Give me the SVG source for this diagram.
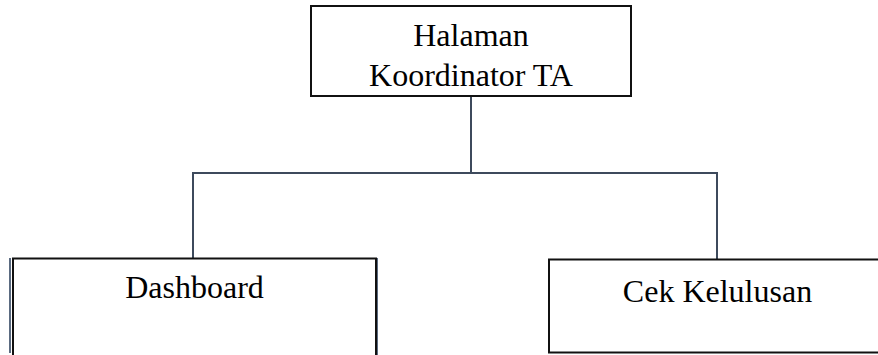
<svg xmlns="http://www.w3.org/2000/svg" width="878" height="355" viewBox="0 0 878 355">
  <style>
    .box { fill: #ffffff; stroke: #111111; stroke-width: 2; }
    .edge { fill: none; stroke: #3d4a5c; stroke-width: 2; }
    .shadow { fill: none; stroke: #5a6a80; stroke-width: 2; }
    .label { font-family: "Liberation Serif", "Times New Roman", serif; font-size: 32px; fill: #000000; text-anchor: middle; }
  </style>
  <rect x="0" y="0" width="878" height="355" fill="#ffffff"/>
  <g id="connectors">
    <line class="edge" x1="471" y1="96" x2="471" y2="173"/>
    <line class="edge" x1="192" y1="173" x2="718" y2="173"/>
    <line class="edge" x1="193" y1="172" x2="193" y2="258"/>
    <line class="edge" x1="717" y1="172" x2="717" y2="259"/>
  </g>
  <g id="node-halaman">
    <rect class="box" x="311" y="6" width="320" height="90"/>
    <text class="label" x="471" y="46">Halaman</text>
    <text class="label" x="471" y="86">Koordinator TA</text>
  </g>
  <g id="node-dashboard">
    <line class="shadow" x1="10" y1="258" x2="10" y2="353"/>
    <line class="shadow" x1="377" y1="258" x2="377" y2="355"/>
    <path class="box" d="M13 356 V258.5 H376 V356"/>
    <text class="label" x="194.5" y="298">Dashboard</text>
  </g>
  <g id="node-cek-kelulusan">
    <rect class="box" x="549" y="259.5" width="340" height="93"/>
    <text class="label" x="717.5" y="301.5">Cek Kelulusan</text>
  </g>
</svg>
